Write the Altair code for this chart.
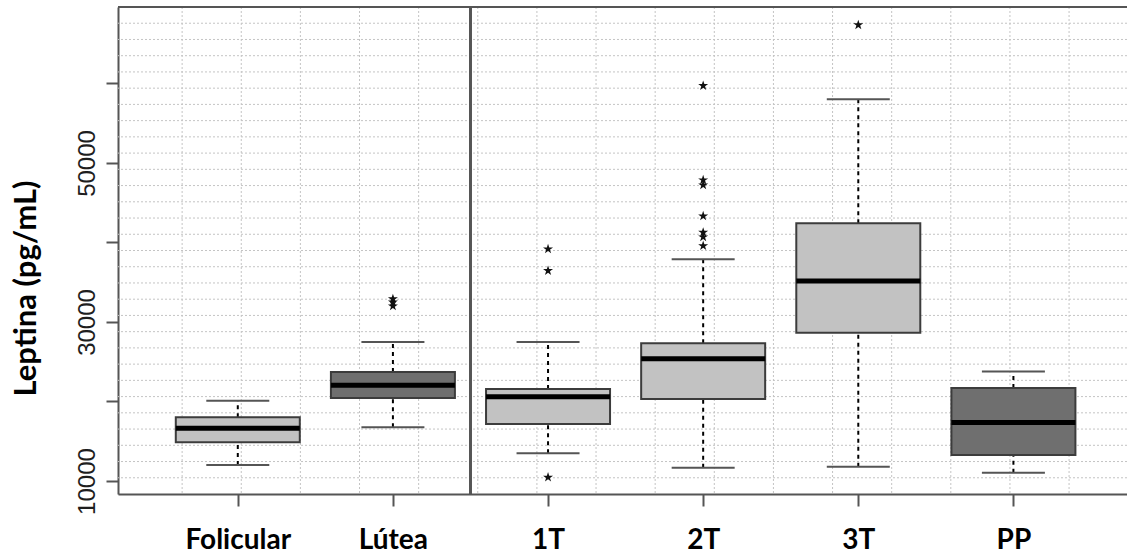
import altair as alt
import pandas as pd

# ---------------- data ----------------
categories = ["Folicular", "Lútea", "1T", "2T", "3T", "PP"]
lower_whisker = [12010, 16750, 13480, 11680, 11800, 11050]
q1 = [14870, 20440, 17170, 20310, 28660, 13270]
median = [16630, 22035, 20610, 25390, 35170, 17350]
q3 = [18010, 23711, 21572, 27320, 42410, 21700]
upper_whisker = [20100, 27480, 27480, 37890, 58010, 23780]
box_tone = ["light", "dark", "light", "light", "light", "dark"]

outlier_group = ["Lútea", "Lútea", "Lútea",
                 "1T", "1T", "1T",
                 "2T", "2T", "2T", "2T", "2T", "2T", "2T",
                 "3T"]
outlier_value = [32900, 32500, 32000,
                 39180, 36450, 10465,
                 59720, 47860, 47230, 43330, 41260, 40690, 39580,
                 67360]

y_ticks = [10000, 20000, 30000, 40000, 50000, 60000]

# ---------------- layout / style ----------------
W, H = 1009, 487
X_DOM = [0.26, 6.70]
X_FULL = (0.26, 6.74)
Y_DOM = [8365, 69620]
STAR = ("M0,-1L0.2245,-0.309L0.951,-0.309L0.363,0.118L0.588,0.809L0,0.382"
        "L-0.588,0.809L-0.363,0.118L-0.951,-0.309L-0.2245,-0.309Z")

boxes = pd.DataFrame({
    "cat": categories,
    "pos": list(range(1, len(categories) + 1)),
    "lo": lower_whisker, "q1": q1, "med": median, "q3": q3, "hi": upper_whisker,
    "tone": box_tone,
})
outliers = pd.DataFrame({
    "pos": [categories.index(c) + 1 for c in outlier_group],
    "val": outlier_value,
})

grid_h = pd.DataFrame({"g": [Y_DOM[0] + k * (Y_DOM[1] - Y_DOM[0]) / 30 for k in range(1, 30)]})
grid_v = pd.DataFrame({"g": [X_FULL[0] + k * (X_FULL[1] - X_FULL[0]) / 17 for k in range(1, 17)]})

xscale = alt.Scale(domain=X_DOM, nice=False, zero=False)
yscale = alt.Scale(domain=Y_DOM, nice=False, zero=False)

label_array = "[" + ",".join("'" + c + "'" for c in categories) + "]"

x_axis = alt.Axis(
    values=list(range(1, len(categories) + 1)),
    labelExpr=label_array + "[datum.value - 1]",
    labelFont="Lato", labelFontWeight="bold", labelFontSize=28, labelColor="black",
    labelAngle=0, labelAlign="center", labelBaseline="alphabetic", labelPadding=42,
    labelFlush=False, labelOverlap=False,
    tickSize=12, tickWidth=2, tickColor="#555555",
    domainColor="#555555", domainWidth=2, grid=False, title=None,
)
y_axis = alt.Axis(
    values=y_ticks, format="d",
    labelExpr="datum.value % 20000 == 10000 ? datum.label : ''",
    labelFont="Liberation Sans", labelFontSize=24, labelColor="#1e1e1e",
    labelAngle=270, labelAlign="center", labelBaseline="alphabetic", labelPadding=12,
    labelOverlap=False, labelFlush=False,
    tickSize=12, tickWidth=2, tickColor="#555555",
    domainColor="#555555", domainWidth=2, grid=False,
    title="Leptina (pg/mL)", titleFont="Lato", titleFontWeight="bold", titleFontSize=31,
    titleColor="black", titleAngle=270, titleAlign="center", titleBaseline="alphabetic",
    titleX=-83, titleY=281,
)

gh = alt.Chart(grid_h).mark_rule(color="#c4c4c4", strokeWidth=1, strokeDash=[2, 2]).encode(
    y=alt.Y("g:Q", scale=yscale, axis=y_axis)
)
gv = alt.Chart(grid_v).mark_rule(color="#c4c4c4", strokeWidth=1, strokeDash=[2, 2]).encode(
    x=alt.X("g:Q", scale=xscale, axis=x_axis)
)

base = alt.Chart(boxes)

whisk_up = base.mark_rule(color="black", strokeWidth=2, strokeDash=[4, 4]).encode(
    x=alt.X("pos:Q", scale=xscale), y=alt.Y("q3:Q", scale=yscale), y2="hi:Q")
whisk_lo = base.mark_rule(color="black", strokeWidth=2, strokeDash=[4, 4]).encode(
    x=alt.X("pos:Q", scale=xscale), y=alt.Y("lo:Q", scale=yscale), y2="q1:Q")
cap_hi = base.mark_tick(color="#555555", thickness=2, size=63, orient="horizontal", opacity=1).encode(
    x=alt.X("pos:Q", scale=xscale), y=alt.Y("hi:Q", scale=yscale))
cap_lo = base.mark_tick(color="#555555", thickness=2, size=63, orient="horizontal", opacity=1).encode(
    x=alt.X("pos:Q", scale=xscale), y=alt.Y("lo:Q", scale=yscale))

box = base.mark_bar(size=124, stroke="#3c3c3c", strokeWidth=2, opacity=1).encode(
    x=alt.X("pos:Q", scale=xscale),
    y=alt.Y("q1:Q", scale=yscale), y2="q3:Q",
    color=alt.Color("tone:N", scale=alt.Scale(domain=["light", "dark"],
                                              range=["#c2c2c2", "#6f6f6f"]), legend=None),
)
med = base.mark_tick(color="black", thickness=5, size=124, orient="horizontal", opacity=1).encode(
    x=alt.X("pos:Q", scale=xscale), y=alt.Y("med:Q", scale=yscale))

outl = alt.Chart(outliers).mark_point(shape=STAR, filled=True, color="#111111", size=110, opacity=1).encode(
    x=alt.X("pos:Q", scale=xscale), y=alt.Y("val:Q", scale=yscale))

sep = alt.Chart(boxes).mark_rule(color="#555555", strokeWidth=2).encode(x=alt.datum(2.5))
top = alt.Chart(boxes).mark_rule(color="#555555", strokeWidth=2).encode(y=alt.value(0))

chart = alt.layer(gh, gv, whisk_up, whisk_lo, cap_hi, cap_lo, box, med, outl, sep, top).properties(
    width=W, height=H,
    autosize=alt.AutoSizeParams(type="none"),
    padding={"left": 118, "top": 7, "right": 0, "bottom": 60},
).configure_view(stroke=None).configure(background="white")

chart.save("out.html", embed_options={"renderer": "svg", "actions": False})
